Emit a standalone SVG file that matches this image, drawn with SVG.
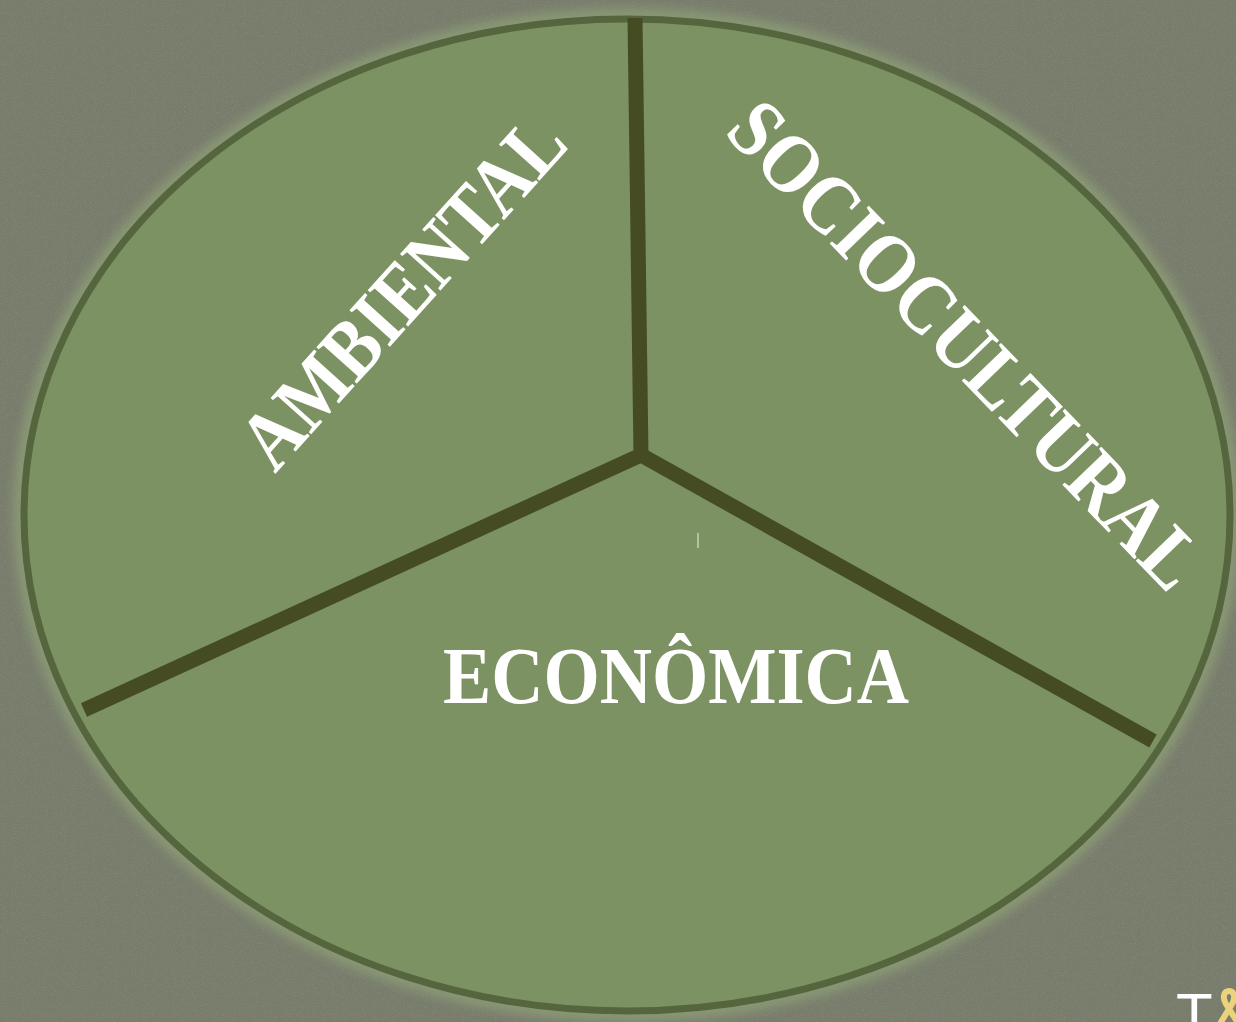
<svg xmlns="http://www.w3.org/2000/svg" width="1236" height="1022" viewBox="0 0 1236 1022">
  <defs>
    <filter id="tex" x="0" y="0" width="100%" height="100%">
      <feTurbulence type="fractalNoise" baseFrequency="0.9" numOctaves="2" seed="3" result="n"/>
      <feColorMatrix in="n" type="matrix" values="0 0 0 0 0.35  0 0 0 0 0.37  0 0 0 0 0.32  0 0 0 -1.4 0.75" result="dots"/>
      <feComposite in="dots" in2="SourceGraphic" operator="in"/>
    </filter>
    <filter id="glow" x="-10%" y="-10%" width="120%" height="120%">
      <feGaussianBlur stdDeviation="6"/>
    </filter>
    <style>
      .lbl { font-family: "Liberation Serif", "Times New Roman", serif; font-weight: bold; font-size: 80px; fill: #ffffff; }
      .rot { font-size: 83px; }
      .spoke { stroke: #454c24; stroke-width: 15; stroke-linecap: butt; fill: none; }
    </style>
  </defs>

  <g id="background">
    <rect x="0" y="0" width="1236" height="1022" fill="#777c6b"/>
    <rect x="0" y="0" width="1236" height="1022" fill="#777c6b" filter="url(#tex)" opacity="0.5"/>
  </g>

  <g id="circle">
    <ellipse cx="627" cy="515" rx="606" ry="499" fill="none" stroke="#93a678" stroke-width="14" filter="url(#glow)" opacity="0.75"/>
    <ellipse cx="627" cy="515" rx="603" ry="496" fill="#7d9262" stroke="#55663f" stroke-width="7"/>
  </g>

  <g id="connectors">
    <line class="spoke" x1="635" y1="18" x2="641" y2="455"/>
    <line class="spoke" x1="641" y1="455" x2="84" y2="710"/>
    <line class="spoke" x1="641" y1="455" x2="1153" y2="741"/>
  </g>

  <g id="node-ambiental">
    <text class="lbl rot" transform="translate(423 310) rotate(-48)" x="0" y="0" text-anchor="middle" textLength="442" lengthAdjust="spacingAndGlyphs">AMBIENTAL</text>
  </g>

  <g id="node-sociocultural">
    <text class="lbl rot" transform="translate(946 364) rotate(46)" x="0" y="0" text-anchor="middle" textLength="642" lengthAdjust="spacingAndGlyphs">SOCIOCULTURAL</text>
  </g>

  <g id="node-economica">
    <text class="lbl" x="676" y="703" text-anchor="middle" textLength="466" lengthAdjust="spacingAndGlyphs">ECONÔMICA</text>
  </g>

  <rect x="697" y="533" width="2" height="15" fill="#b3c3a0"/>

  <g id="corner-logo">
    <text x="1176" y="1035" font-family="Liberation Sans, Arial, sans-serif" font-size="60" fill="#ffffff">T</text>
    <path d="M1221 1022 L1232 1004 C1236 997 1234 991 1229 991 C1224 991 1222 997 1226 1004 L1236 1020" fill="none" stroke="#ecd27a" stroke-width="6" stroke-linecap="round"/>
  </g>
</svg>
